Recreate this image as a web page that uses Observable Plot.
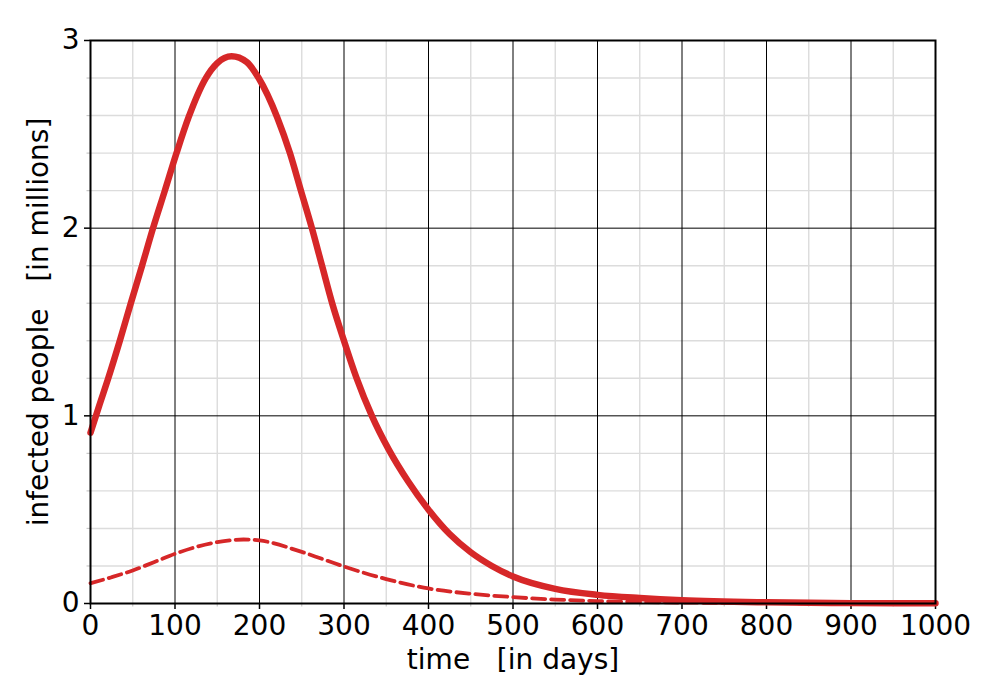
<!DOCTYPE html>
<html>
<head>
<meta charset="utf-8">
<script src="https://cdn.jsdelivr.net/npm/d3@7"></script>
<script src="https://cdn.jsdelivr.net/npm/@observablehq/plot@0.6"></script>
<style>
  body { margin: 0; background: #fff; }
  svg text { white-space: pre; }
</style>
</head>
<body>
<div id="chart"></div>
<script>
const totalDays = [0, 10, 21, 34.7, 47.7, 61, 74, 88, 101.8, 116, 136.5, 150, 167, 185, 199, 221, 236, 249, 262, 274, 286, 300, 315, 333, 353, 376, 400, 425, 450, 475, 500, 550, 600, 650, 700, 800, 900, 1000];
const infectedTotal = [0.91, 1.05, 1.2, 1.4, 1.6, 1.8, 2.0, 2.2, 2.4, 2.59, 2.8, 2.88, 2.916, 2.885, 2.8, 2.59, 2.4, 2.2, 2.0, 1.8, 1.6, 1.4, 1.2, 1.0, 0.82, 0.65, 0.5, 0.37, 0.273, 0.2, 0.144, 0.078, 0.046, 0.029, 0.017, 0.006, 0.002, 0.001];
const severeDays = [0, 25, 50, 75, 100, 150, 181, 200, 250, 300, 350, 400, 450, 500, 550, 600, 650, 700, 800, 900, 1000];
const infectedSevere = [0.108, 0.14, 0.176, 0.22, 0.265, 0.327, 0.341, 0.336, 0.275, 0.197, 0.13, 0.08, 0.052, 0.034, 0.021, 0.013, 0.008, 0.005, 0.002, 0.001, 0.0005];

const xMajor = d3.range(0, 1001, 100);
const xMinor = d3.range(50, 1000, 100);
const yMajor = [0, 1, 2, 3];
const yMinor = [0.2, 0.4, 0.6, 0.8, 1.2, 1.4, 1.6, 1.8, 2.2, 2.4, 2.6, 2.8];
const xLabel = "time   [in days]";
const yLabel = "infected people   [in millions]";

const total = totalDays.map((d, i) => ({day: d, value: infectedTotal[i]}));
const severe = severeDays.map((d, i) => ({day: d, value: infectedSevere[i]}));

const chart = Plot.plot({
  width: 1000,
  height: 700,
  marginLeft: 90,
  marginRight: 65,
  marginTop: 40,
  marginBottom: 97,
  style: {fontFamily: "DejaVu Sans", fontSize: "28px", background: "#fff", color: "#000"},
  x: {domain: [0, 1000], label: null},
  y: {domain: [0, 3], label: null},
  marks: [
    Plot.gridX(xMinor, {stroke: "#dcdcdc", strokeOpacity: 1, strokeWidth: 1.4}),
    Plot.gridY(yMinor, {stroke: "#dcdcdc", strokeOpacity: 1, strokeWidth: 1.4}),
    Plot.gridX(xMajor.slice(1, -1), {stroke: "#000", strokeOpacity: 1, strokeWidth: 1}),
    Plot.gridY([1, 2], {stroke: "#000", strokeOpacity: 1, strokeWidth: 1}),
    Plot.axisX(xMinor, {tickSize: 3.5, text: null, label: null, stroke: "#c8c8c8", strokeWidth: 1.2}),
    Plot.axisY(yMinor, {tickSize: 3.5, text: null, label: null, stroke: "#c8c8c8", strokeWidth: 1.2}),
    Plot.axisX(xMajor, {tickSize: 6, tickPadding: 6, label: null, tickFormat: d3.format("d"), strokeWidth: 1.5, fontSize: 28}),
    Plot.axisY(yMajor, {tickSize: 6, tickPadding: 5, label: null, tickFormat: d3.format("d"), strokeWidth: 1.5, fontSize: 28}),
    Plot.line(severe, {x: "day", y: "value", stroke: "#d62728", strokeWidth: 3.8, strokeDasharray: "13,6", curve: "monotone-x"}),
    Plot.line(total, {x: "day", y: "value", stroke: "#d62728", strokeWidth: 6.5, curve: "monotone-x"}),
    Plot.frame({stroke: "#000", strokeWidth: 2}),
    Plot.text([xLabel], {frameAnchor: "bottom", dy: 65, fontSize: 28, fill: "#000", textAnchor: "middle"}),
    Plot.text([yLabel], {frameAnchor: "left", dx: -51, rotate: -90, fontSize: 28, fill: "#000", textAnchor: "middle"})
  ]
});
document.getElementById("chart").appendChild(chart);
</script>
</body>
</html>
